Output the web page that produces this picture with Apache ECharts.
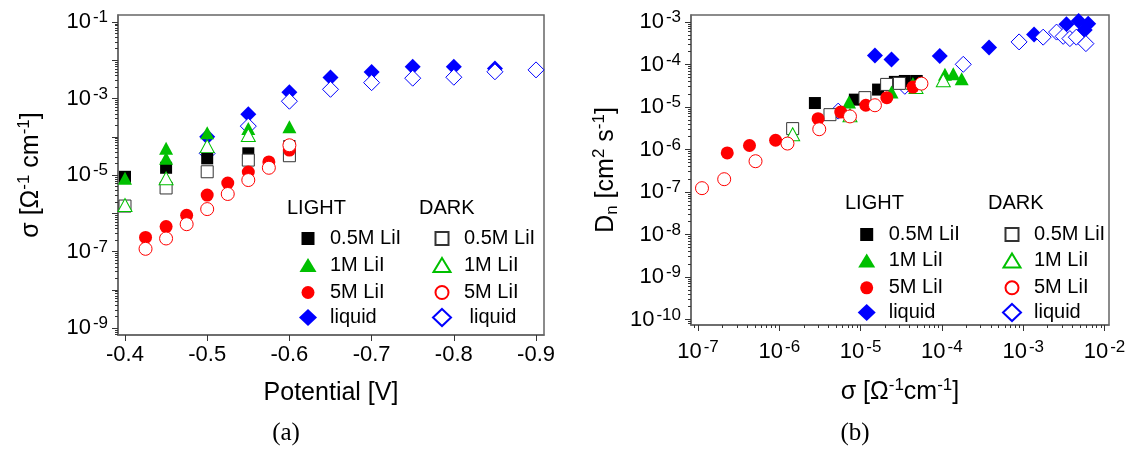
<!DOCTYPE html>
<html><head><meta charset="utf-8">
<script src="https://cdn.jsdelivr.net/npm/echarts@6/dist/echarts.min.js"></script>
<style>html,body{margin:0;padding:0;background:#fff}#c{width:1131px;height:450px}</style>
</head><body><div id="c"></div>
<script>
// ---------- Panel (a): conductivity vs potential ----------
const potA_L05 = [-0.40, -0.45, -0.50, -0.55, -0.60];
const sigA_L05 = [9.0e-6, 1.55e-5, 2.73e-5, 3.7e-5, 5.7e-5];
const potA_D05 = [-0.40, -0.45, -0.50, -0.55, -0.60];
const sigA_D05 = [1.55e-6, 4.6e-6, 1.22e-5, 2.46e-5, 3.2e-5];
const potA_L1 = [-0.40, -0.45, -0.45, -0.50, -0.55, -0.60];
const sigA_L1 = [8.2e-6, 5.0e-5, 2.73e-5, 1.28e-4, 1.65e-4, 1.82e-4];
const potA_D1 = [-0.40, -0.45, -0.50, -0.55];
const sigA_D1 = [1.65e-6, 8.2e-6, 5.7e-5, 1.11e-4];
const potA_L5 = [-0.425, -0.45, -0.475, -0.50, -0.525, -0.55, -0.575, -0.60];
const sigA_L5 = [2.35e-7, 4.5e-7, 8.9e-7, 3.0e-6, 6.2e-6, 1.2e-5, 2.2e-5, 4.5e-5];
const potA_D5 = [-0.425, -0.45, -0.475, -0.50, -0.525, -0.55, -0.575, -0.60];
const sigA_D5 = [1.18e-7, 2.2e-7, 5.2e-7, 1.29e-6, 3.2e-6, 7.4e-6, 1.55e-5, 6.0e-5];
const potA_LL = [-0.50, -0.55, -0.60, -0.65, -0.70, -0.75, -0.80, -0.85];
const sigA_LL = [1.0e-4, 3.9e-4, 1.45e-3, 3.55e-3, 4.9e-3, 6.8e-3, 6.8e-3, 6.1e-3];
const potA_DL = [-0.50, -0.55, -0.60, -0.65, -0.70, -0.75, -0.80, -0.85, -0.90];
const sigA_DL = [3.7e-5, 1.9e-4, 8.5e-4, 1.74e-3, 2.6e-3, 3.4e-3, 3.6e-3, 5.0e-3, 5.6e-3];

// ---------- Panel (b): diffusion coefficient vs conductivity ----------
const sigB_L05 = [2.74e-6, 8.5e-6, 1.64e-5, 2.64e-5, 3.5e-5, 4.9e-5];
const dnB_L05  = [1.24e-5, 1.49e-5, 2.57e-5, 3.9e-5, 4.1e-5, 4.1e-5];
const sigB_D05 = [1.46e-6, 4.2e-6, 1.13e-5, 2.09e-5, 3.0e-5];
const dnB_D05  = [3.1e-6, 6.6e-6, 1.66e-5, 3.4e-5, 3.6e-5];
const sigB_L1 = [7.2e-6, 2.4e-5, 4.4e-5, 1.09e-4, 1.38e-4, 1.75e-4];
const dnB_L1  = [1.31e-5, 2.25e-5, 3.55e-5, 5.9e-5, 6.1e-5, 4.65e-5];
const sigB_D1 = [1.46e-6, 7.4e-6, 4.8e-5, 1.04e-4];
const dnB_D1  = [2.28e-6, 6.4e-6, 2.95e-5, 4.25e-5];
const sigB_L5 = [2.29e-7, 4.3e-7, 9.0e-7, 3.0e-6, 5.7e-6, 1.16e-5, 2.1e-5, 4.4e-5];
const dnB_L5  = [8.3e-7, 1.24e-6, 1.65e-6, 5.3e-6, 7.6e-6, 1.1e-5, 1.66e-5, 2.95e-5];
const sigB_D5 = [1.12e-7, 2.1e-7, 5.1e-7, 1.26e-6, 3.1e-6, 7.4e-6, 1.5e-5, 5.6e-5];
const dnB_D5  = [1.23e-7, 2.0e-7, 5.3e-7, 1.38e-6, 3.0e-6, 6.0e-6, 1.1e-5, 3.55e-5];
const sigB_LL = [1.5e-5, 2.4e-5, 9.4e-5, 3.8e-4, 1.36e-3, 3.4e-3, 4.8e-3, 6.3e-3, 5.7e-3];
const dnB_LL  = [1.64e-4, 1.32e-4, 1.58e-4, 2.5e-4, 5.1e-4, 8.8e-4, 1.05e-3, 9.1e-4, 6.5e-4];
const sigB_DL = [5.3e-6, 3.5e-5, 1.83e-4, 8.9e-4, 1.76e-3, 2.57e-3, 3.1e-3, 3.75e-3, 4.5e-3, 5.9e-3];
const dnB_DL  = [8.0e-6, 3.07e-5, 1.01e-4, 3.4e-4, 4.4e-4, 5.8e-4, 4.6e-4, 4.07e-4, 4.4e-4, 3.1e-4];

// ---------- labels ----------
const seriesLabelsLight = ['0.5M LiI', '1M LiI', '5M LiI', 'liquid'];
const seriesLabelsDarkA = ['0.5M LiI', '1M LiI', '5M LiI', ' liquid'];
const seriesLabelsDarkB = ['0.5M LiI', '1M LiI', '5M LiI', 'liquid'];
const potentialTicks = [-0.4, -0.5, -0.6, -0.7, -0.8, -0.9];
const sigmaAxisLabelExp = [-9, -7, -5, -3, -1];
const sigmaAxisTickExp = [-9, -8, -7, -6, -5, -4, -3, -2, -1];
const sigmaBTickExp = [-7, -6, -5, -4, -3, -2];
const dnBTickExp = [-10, -9, -8, -7, -6, -5, -4, -3];

const FONT = '"Liberation Sans", Arial, sans-serif';
const pw = e => Math.pow(10, e);
function minorTicks(lo, hi) {
  const out = [];
  for (let d = Math.floor(lo); d <= Math.ceil(hi); d++)
    for (let k = 2; k <= 9; k++) { const v = k * pw(d); const l = Math.log10(v); if (l > lo && l < hi) out.push(v); }
  return out;
}
const zip = (xs, ys) => xs.map((x, i) => [x, ys[i]]);

const A_Y = [-9.18, -0.817], B_X = [-7.086, -1.945], B_Y = [-10.13, -2.835];
const AX = '#666';
const richTick = {
  b: { fontSize: 22, fontFamily: FONT, color: '#000', lineHeight: 26 },
  s: { fontSize: 17, fontFamily: FONT, color: '#000', lineHeight: 17, verticalAlign: 'top', padding: [0, 0, 0, 2] }
};
const richName = {
  m: { fontSize: 25, fontFamily: FONT, color: '#000', lineHeight: 30 },
  s: { fontSize: 17, fontFamily: FONT, color: '#000', lineHeight: 17, verticalAlign: 'top' },
  u: { fontSize: 17, fontFamily: FONT, color: '#000', lineHeight: 17, verticalAlign: 'bottom' }
};
const expFmt = v => '{b|10}{s|' + Math.round(Math.log10(v)) + '}';

function mainLogAxis(grid, pos, ext, tickExp, labelExp, extra) {
  return Object.assign({
    type: 'log', logBase: 10, gridIndex: grid, position: pos,
    min: pw(ext[0]), max: pw(ext[1]),
    splitLine: { show: false },
    axisLine: { show: true, lineStyle: { color: AX, width: 1.5 } },
    axisTick: { show: true, inside: false, length: 6, lineStyle: { color: '#333', width: 1 }, customValues: tickExp.map(pw) },
    axisLabel: { customValues: labelExp.map(pw), formatter: expFmt, rich: richTick, margin: 10 }
  }, extra || {});
}
function minorLogAxis(grid, pos, ext) {
  return {
    type: 'log', logBase: 10, gridIndex: grid, position: pos,
    min: pw(ext[0]), max: pw(ext[1]),
    splitLine: { show: false }, axisLine: { show: false }, axisLabel: { show: false },
    axisTick: { show: true, inside: false, length: 3, lineStyle: { color: '#333', width: 1 }, customValues: minorTicks(ext[0], ext[1]) }
  };
}

const styles = [
  { sym: 'rect', size: 12, color: '#000', leg: [13, 13] },
  { sym: 'triangle', size: [14, 13], color: '#00c000', leg: [17, 14] },
  { sym: 'circle', size: 13, color: '#ff0000', leg: [13, 13] },
  { sym: 'diamond', size: 16, color: '#0000ff', leg: [18, 17] }
];
const darkBorder = ['#333', '#00c000', '#ff0000', '#0000ff'];

function mk(name, xs, ys, si, dark, xi, yi) {
  const st = styles[si];
  return {
    type: 'scatter', name: name, xAxisIndex: xi, yAxisIndex: yi,
    symbol: st.sym, symbolSize: st.size,
    itemStyle: dark ? { color: '#fff', borderColor: darkBorder[si], borderWidth: 1, opacity: 1 } : { color: st.color, opacity: 1 },
    emphasis: { disabled: true },
    data: zip(xs, ys)
  };
}

const series = [
  mk('aL3', potA_LL, sigA_LL, 3, false, 0, 0),
  mk('aD3', potA_DL, sigA_DL, 3, true, 0, 0),
  mk('aL0', potA_L05, sigA_L05, 0, false, 0, 0),
  mk('aD0', potA_D05, sigA_D05, 0, true, 0, 0),
  mk('aL1', potA_L1, sigA_L1, 1, false, 0, 0),
  mk('aD1', potA_D1, sigA_D1, 1, true, 0, 0),
  mk('aL2', potA_L5, sigA_L5, 2, false, 0, 0),
  mk('aD2', potA_D5, sigA_D5, 2, true, 0, 0),
  mk('bL3', sigB_LL, dnB_LL, 3, false, 1, 2),
  mk('bD3', sigB_DL, dnB_DL, 3, true, 1, 2),
  mk('bL0', sigB_L05, dnB_L05, 0, false, 1, 2),
  mk('bD0', sigB_D05, dnB_D05, 0, true, 1, 2),
  mk('bL1', sigB_L1, dnB_L1, 1, false, 1, 2),
  mk('bD1', sigB_D1, dnB_D1, 1, true, 1, 2),
  mk('bL2', sigB_L5, dnB_L5, 2, false, 1, 2),
  mk('bD2', sigB_D5, dnB_D5, 2, true, 1, 2)
];

// one legend per entry so each icon keeps its own size
function legendCol(prefix, labels, iconX, rowY) {
  return [0, 1, 2, 3].map(i => {
    const [w, h] = styles[i].leg;
    return {
      orient: 'vertical', left: iconX - w / 2, top: rowY[i] - h / 2, padding: 0,
      itemWidth: w, itemHeight: h, selectedMode: false, symbolKeepAspect: false,
      data: [prefix + i],
      formatter: () => labels[i],
      textStyle: { fontSize: 20, fontFamily: FONT, color: '#000', lineHeight: 20, padding: [0, 0, 0, 17 - w / 2] }
    };
  });
}
const rowA = [235, 262, 289, 316], rowB = [231, 257.5, 284.3, 311];

const tStyle = { fontSize: 20, fontWeight: 'normal', fontFamily: FONT, color: '#000', lineHeight: 20 };
const option = {
  animation: false,
  backgroundColor: '#fff',
  grid: [
    { left: 118, top: 15, width: 426, height: 320, show: true, borderColor: AX, borderWidth: 1.5, backgroundColor: 'transparent' },
    { left: 691, top: 15, width: 418, height: 310, show: true, borderColor: AX, borderWidth: 1.5, backgroundColor: 'transparent' }
  ],
  xAxis: [
    {
      type: 'value', gridIndex: 0, position: 'bottom', inverse: true,
      min: -0.9097, max: -0.3915,
      splitLine: { show: false },
      axisLine: { show: true, onZero: false, lineStyle: { color: AX, width: 1.5 } },
      axisTick: { show: true, length: 6, lineStyle: { color: '#333' }, customValues: potentialTicks },
      axisLabel: { customValues: potentialTicks, formatter: v => v.toFixed(1), fontSize: 22, fontFamily: FONT, color: '#000', margin: 9 },
      name: 'Potential [V]', nameLocation: 'middle', nameGap: 46,
      nameTextStyle: { fontSize: 25, fontFamily: FONT, color: '#000' }
    },
    mainLogAxis(1, 'bottom', B_X, sigmaBTickExp, sigmaBTickExp, {
      axisLabel: { customValues: sigmaBTickExp.map(pw), formatter: expFmt, rich: richTick, margin: 14 },
      name: '{m|σ [Ω}{s|-1}{m|cm}{s|-1}{m|]}', nameLocation: 'middle', nameGap: 52,
      nameTextStyle: { rich: richName }
    }),
    minorLogAxis(1, 'bottom', B_X)
  ],
  yAxis: [
    mainLogAxis(0, 'left', A_Y, sigmaAxisTickExp, sigmaAxisLabelExp, {
      name: '{m|σ [Ω}{s|-1}{m| cm}{s|-1}{m|]}', nameLocation: 'middle', nameGap: 72,
      nameTextStyle: { rich: richName }
    }),
    minorLogAxis(0, 'left', A_Y),
    mainLogAxis(1, 'left', B_Y, dnBTickExp, dnBTickExp, {
      name: '{m|D}{u|n}{m| [cm}{s|2}{m| s}{s|-1}{m|]}', nameLocation: 'middle', nameGap: 70,
      nameTextStyle: { rich: richName }
    }),
    minorLogAxis(1, 'left', B_Y)
  ],
  legend: [].concat(
    legendCol('aL', seriesLabelsLight, 308, rowA),
    legendCol('aD', seriesLabelsDarkA, 441, rowA),
    legendCol('bL', seriesLabelsLight, 866.7, rowB),
    legendCol('bD', seriesLabelsDarkB, 1011, rowB)
  ),
  title: [
    { text: 'LIGHT', left: 287, top: 198, padding: 0, textStyle: tStyle },
    { text: 'DARK', left: 419, top: 198, padding: 0, textStyle: tStyle },
    { text: 'LIGHT', left: 845, top: 193, padding: 0, textStyle: tStyle },
    { text: 'DARK', left: 988, top: 193, padding: 0, textStyle: tStyle },
    { text: '(a)', left: 286, top: 433, textAlign: 'center', textVerticalAlign: 'middle', padding: 0, textStyle: { fontSize: 25, fontWeight: 'normal', fontFamily: '"Liberation Serif", serif', color: '#000' } },
    { text: '(b)', left: 855, top: 433, textAlign: 'center', textVerticalAlign: 'middle', padding: 0, textStyle: { fontSize: 25, fontWeight: 'normal', fontFamily: '"Liberation Serif", serif', color: '#000' } }
  ],
  series: series
};
const chart = echarts.init(document.getElementById('c'), null, { renderer: 'canvas' });
chart.setOption(option);
</script></body></html>
